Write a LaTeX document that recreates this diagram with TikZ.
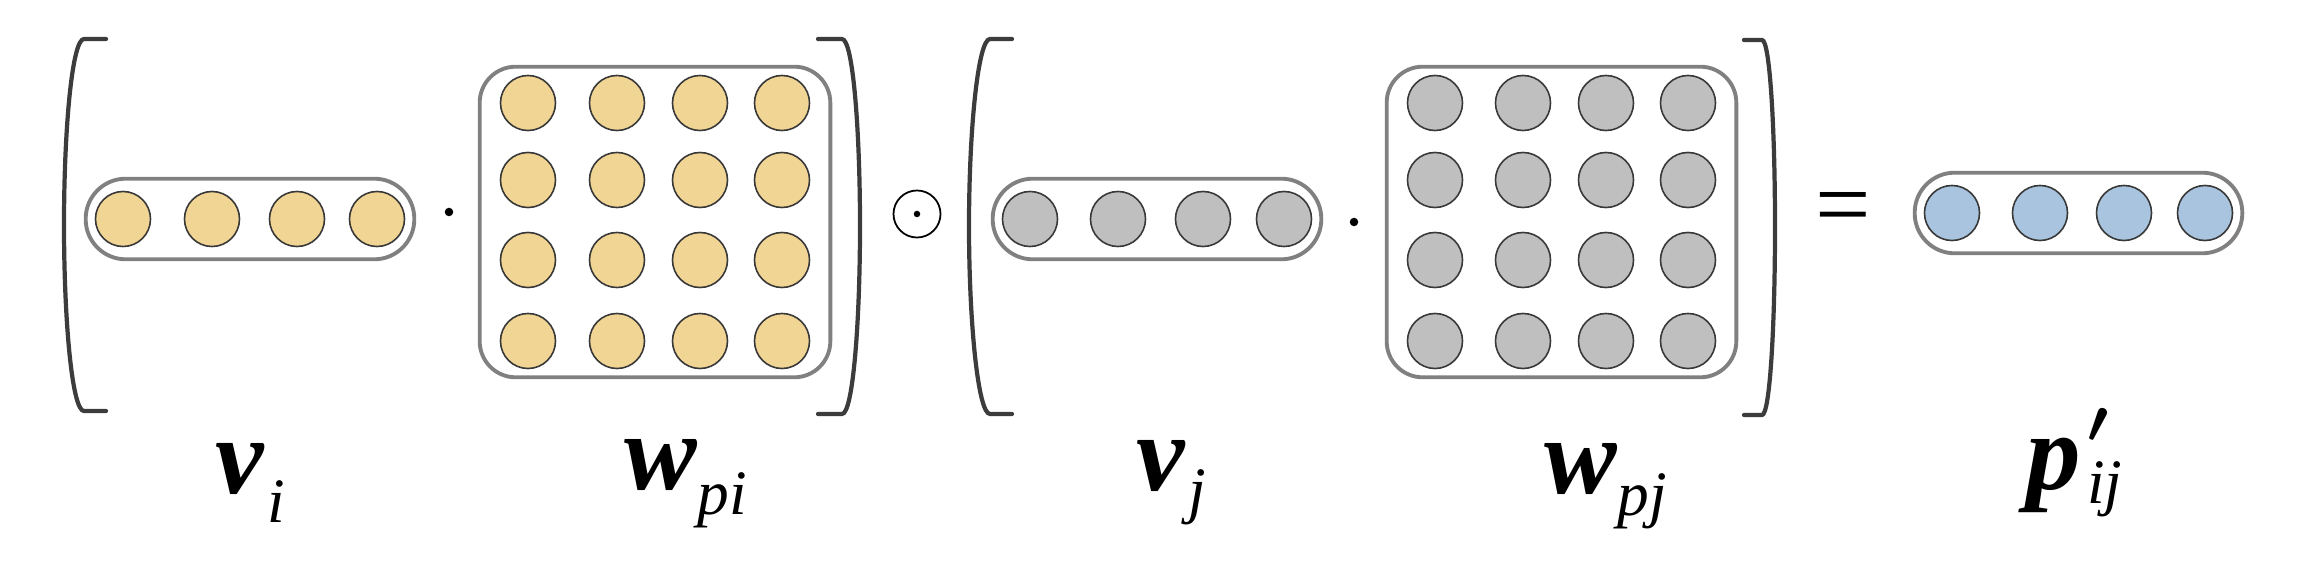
\documentclass[tikz,border=0pt]{standalone}
\usepackage{fontspec}
\setmainfont{LiberationSerif}[
    Extension=.ttf,
    UprightFont=*-Regular,
    ItalicFont=*-Italic,
    BoldFont=*-Bold,
    BoldItalicFont=*-BoldItalic]
\usepackage{tikz}
\usetikzlibrary{shapes,fit,positioning}

\definecolor{unityellow}{HTML}{F1D594}
\definecolor{unitgray}{HTML}{BFBFBF}
\definecolor{unitblue}{HTML}{A9C4DE}
\definecolor{unitline}{HTML}{383838}
\definecolor{boxgray}{HTML}{808080}
\definecolor{brackgray}{HTML}{3C3C3C}

\newcommand{\biglbl}{\fontsize{31}{36}\selectfont\bfseries\itshape}
\newcommand{\sublbl}{\fontsize{18}{22}\selectfont\mdseries\itshape}

\begin{document}
\begin{tikzpicture}[
      x=0.01cm,
      y=-0.01cm
    ]

    \tikzstyle{neuron} = [
        circle,
        draw=unitline,
        line width=0.45pt,
        minimum size=0.55cm,
        inner sep=0pt
    ]

    \tikzstyle{vecbox} = [
        rectangle,
        draw=boxgray,
        line width=1.1pt,
        rounded corners=0.4cm,
        inner xsep=0.09cm,
        inner ysep=0.12cm
    ]

    \tikzstyle{matbox} = [
        rectangle,
        draw=boxgray,
        line width=1.1pt,
        rounded corners=0.36cm,
        inner xsep=0.2cm,
        inner ysep=0.08cm
    ]

    \tikzstyle{bracket} = [
        draw=brackgray,
        line width=1.2pt,
        line cap=round
    ]

    \tikzstyle{opdot} = [
        circle,
        fill,
        inner sep=0pt,
        minimum size=0.085cm
    ]

    \tikzstyle{etiqueta} = [
        anchor=base west,
        inner sep=0pt
    ]

    \useasboundingbox (0,0) rectangle (2320,576);

    % v_i . W_pi
    \foreach \dx [count=\k] in {0,89,174,254}
        \node [neuron, fill=unityellow] (vi\k) at (123+\dx,219) {};
    \node [vecbox, fit=(vi1)(vi4)] (vi) {};

    \node [opdot] (prodi) at (449,212) {};

    \foreach \dx [count=\k] in {0,89,172,254}
      \foreach \dy [count=\r] in {0,77,157,238}
        \node [neuron, fill=unityellow] (wpi\r\k) at (528+\dx,103+\dy) {};
    \node [matbox, fit=(wpi11)(wpi44)] (wpi) {};

    \draw [bracket] (106,39) -- (84,39) .. controls (72,39) and (64,130) .. (64,225)
        .. controls (64,320) and (72,411) .. (84,411) -- (106,411);
    \draw [bracket] (818,39) -- (842,39) .. controls (853,39) and (860,130) .. (860,226)
        .. controls (860,322) and (853,414) .. (842,414) -- (818,414);

    % hadamard
    \node [circle, draw, line width=0.5pt, minimum size=0.47cm, inner sep=0pt] (hada) at (917,214) {};
    \node [opdot, minimum size=0.065cm] (hadadot) at (hada.center) {};

    % v_j . W_pj
    \draw [bracket] (1012,39) -- (990,39) .. controls (978,39) and (969,130) .. (969,226)
        .. controls (969,322) and (978,414) .. (990,414) -- (1012,414);
    \draw [bracket] (1744,40) -- (1762,40) .. controls (1770,40) and (1775,130) .. (1775,227)
        .. controls (1775,324) and (1770,415) .. (1762,415) -- (1744,415);

    \foreach \dx [count=\k] in {0,88,173,254}
        \node [neuron, fill=unitgray] (vj\k) at (1030+\dx,219) {};
    \node [vecbox, fit=(vj1)(vj4)] (vj) {};

    \node [opdot] (prodj) at (1354,222) {};

    \foreach \dx [count=\k] in {0,88,171,253}
      \foreach \dy [count=\r] in {0,77,157,238}
        \node [neuron, fill=unitgray] (wpj\r\k) at (1435+\dx,103+\dy) {};
    \node [matbox, fit=(wpj11)(wpj44)] (wpj) {};

    % resultado
    \node [font=\fontsize{28}{30}\selectfont, inner sep=0pt] (igual) at (1843,215) {=};

    \foreach \dx [count=\k] in {0,88,172,253}
        \node [neuron, fill=unitblue] (p\k) at (1952+\dx,213) {};
    \node [vecbox, fit=(p1)(p4)] (pij) {};

    % etiquetas
    \node [etiqueta] (lvi) at (215,494) {\biglbl v\hspace{0.03cm}\raisebox{-0.28cm}{\sublbl i}};
    \node [etiqueta] (lwpi) at (624,489) {\biglbl w\raisebox{-0.25cm}{\sublbl pi}};
    \node [etiqueta] (lvj) at (1136,490) {\biglbl v\hspace{0.03cm}\raisebox{-0.21cm}{\sublbl j}};
    \node [etiqueta] (lwpj) at (1544,493) {\biglbl w\raisebox{-0.22cm}{\sublbl pj}};
    \node [etiqueta] (lpij) at (2026,489) {\biglbl p\hspace{0.06cm}\rlap{\raisebox{0.46cm}{\fontsize{18}{22}\selectfont\boldmath$\prime$}}\raisebox{-0.14cm}{\sublbl ij}};

\end{tikzpicture}
\end{document}
